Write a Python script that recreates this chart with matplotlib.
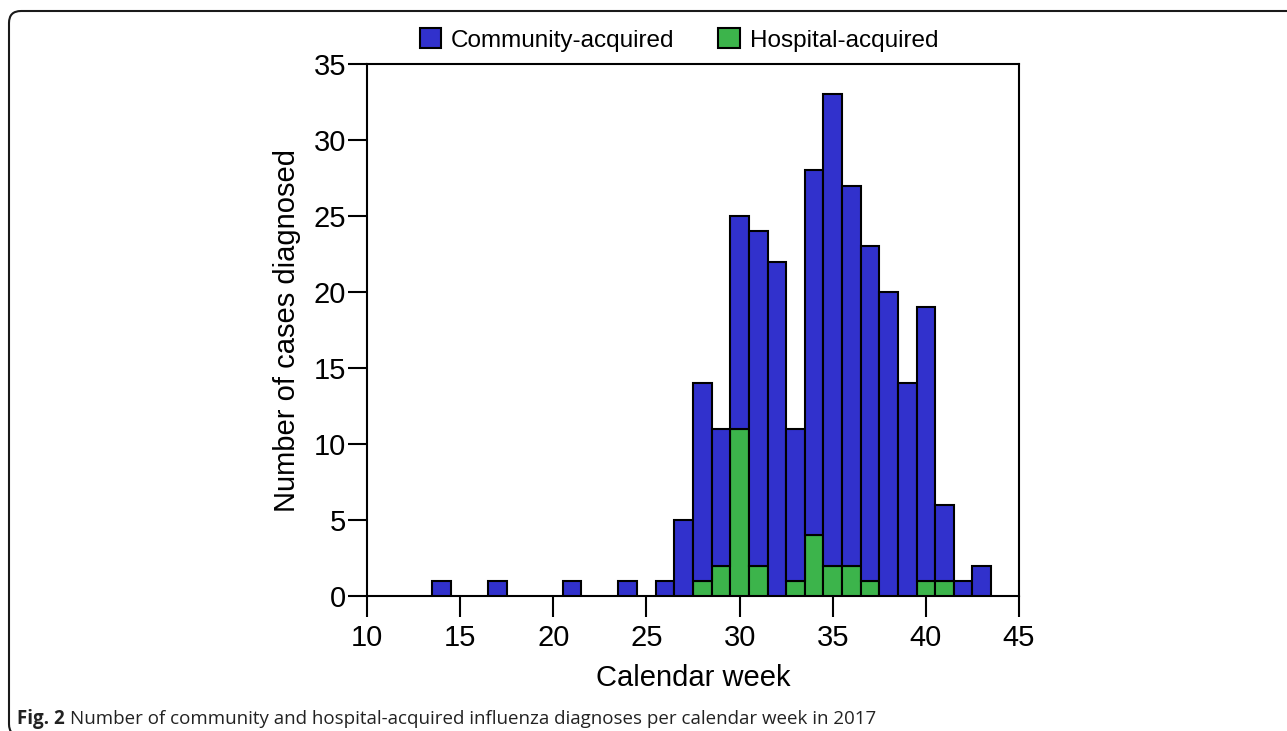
import matplotlib
matplotlib.use('Agg')
import matplotlib.pyplot as plt
from matplotlib.patches import FancyBboxPatch
import numpy as np

# weekly counts (weeks with no cases left out)
weeks = [14, 17, 21, 24, 26, 27, 28, 29, 30, 31, 32, 33, 34, 35, 36, 37, 38, 39, 40, 41, 42, 43]
total_cases = [1, 1, 1, 1, 1, 5, 14, 11, 25, 24, 22, 11, 28, 33, 27, 23, 20, 14, 19, 6, 1, 2]
hospital_cases = [0, 0, 0, 0, 0, 0, 1, 2, 11, 2, 0, 1, 4, 2, 2, 1, 0, 0, 1, 1, 0, 0]
community_cases = list(np.array(total_cases) - np.array(hospital_cases))

x_ticks = [10, 15, 20, 25, 30, 35, 40, 45]
y_ticks = [0, 5, 10, 15, 20, 25, 30, 35]

caption_bold = 'Fig. 2'
caption_text = 'Number of community and hospital-acquired influenza diagnoses per calendar week in 2017'

blue = '#3131cc'
green = '#3cb44b'

plt.rcParams['font.family'] = ['Liberation Sans', 'DejaVu Sans']

W, H = 1287, 731
fig = plt.figure(figsize=(W / 100, H / 100), dpi=100)
ax = fig.add_axes([367 / W, 1 - 596 / H, (1019 - 367) / W, (596 - 64) / H])

ax.bar(weeks, hospital_cases, width=1.0, color=green, edgecolor='black', linewidth=1.5,
       label='Hospital-acquired', zorder=3)
ax.bar(weeks, community_cases, width=1.0, bottom=hospital_cases, color=blue, edgecolor='black',
       linewidth=1.5, label='Community-acquired', zorder=3)

ax.set_xlim(10, 45)
ax.set_ylim(0, 35)
ax.set_xticks(x_ticks)
ax.set_yticks(y_ticks)
ax.tick_params(axis='both', labelsize=21, width=1.5, length=14, direction='out')
ax.tick_params(axis='x', pad=5, length=15)
ax.tick_params(axis='y', pad=1)
for s in ax.spines.values():
    s.set_linewidth(1.5)

ax.set_xlabel('Calendar week', fontsize=21, labelpad=9)
ax.set_ylabel('Number of cases diagnosed', fontsize=21, labelpad=9)

handles, labels = ax.get_legend_handles_labels()
fig.legend(handles[::-1], labels[::-1], loc='center', bbox_to_anchor=(679 / W, 1 - 40 / H),
           ncol=2, frameon=False, fontsize=17.5, handlelength=0.9, handleheight=0.9,
           handletextpad=0.4, columnspacing=1.8)

# rounded frame around the panel (right and bottom edges run off the image)
frame = FancyBboxPatch((0.09, -0.05), 13.5, 7.20 + 0.05,
                       boxstyle='round,pad=0,rounding_size=0.12',
                       transform=fig.dpi_scale_trans, fill=False,
                       edgecolor='#1a1a1a', linewidth=1.5)
fig.patches.append(frame)

cap = fig.text(17 / W, 1 - 719 / H, caption_bold, fontsize=13.5, fontweight='bold',
               family=['Open Sans', 'DejaVu Sans'], va='center', ha='left', color='#222222')
fig.canvas.draw()
bb = cap.get_window_extent()
fig.text((bb.x1 + 5) / W, 1 - 719 / H, caption_text, fontsize=13.5,
         family=['Open Sans', 'DejaVu Sans'], va='center', ha='left', color='#222222')

fig.savefig('out.png', dpi=100)
